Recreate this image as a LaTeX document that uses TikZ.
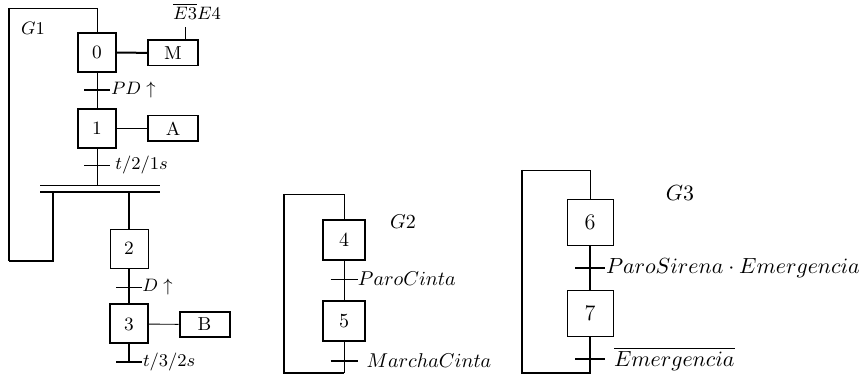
\documentclass[tikz,border=0pt]{standalone}
\begin{document}
\begin{tikzpicture}[x=0.5pt,y=-0.5pt,
  thinl/.style={line width=0.45pt},
  medl/.style={line width=0.75pt},
  thickl/.style={line width=1pt},
  fa/.style={font=\fontsize{9.4pt}{11pt}\selectfont},
  fb/.style={font=\fontsize{10pt}{12pt}\selectfont},
  fc/.style={font=\fontsize{11.1pt}{13pt}\selectfont},
  boxa/.style={draw,fa,inner sep=0pt,minimum width=19pt,minimum height=19.5pt},
  boxb/.style={draw,fb,inner sep=0pt,minimum width=21pt,minimum height=20pt},
  boxc/.style={draw,fc,inner sep=0pt,minimum width=23pt,minimum height=23pt},
  actbox/.style={draw,fa,inner sep=0pt,minimum width=25pt,minimum height=12.75pt},
  lbl/.style={anchor=west,inner sep=1pt}]
\useasboundingbox (0,0) rectangle (868,378);

% ================= G1 =================
\node[fa] (g1) at (33,28) {$G1$};
\node[boxa,thickl] (s0) at (97,52.5) {0};
\node[boxa,thickl] (s1) at (97,128.5) {1};
\node[boxa,thinl] (s2) at (129,248.5) {2};
\node[boxa,thickl] (s3) at (129,324) {3};
\node[actbox,medl] (aM) at (173,53) {M};
\node[actbox,medl] (aA) at (173,128.5) {A};
\node[actbox,thickl] (aB) at (204.5,324.5) {B};
\node[fa,anchor=base] (e34) at (197,20) {$\overline{E3}E4$};
\coordinate (mq) at (185,27);

\draw[thickl] (s0) -- (aM);
\draw[thinl] (s1) -- (aA);
\draw[thinl] (aM.north -| mq) -- (mq);
\draw[thinl] (aB) -- (s3);

% loop G1
\coordinate (l1a) at (97,8);
\coordinate (l1b) at (9,8);
\coordinate (l1c) at (9,261);
\coordinate (l1d) at (53,261);
\coordinate (l1e) at (53,192);
\draw[thinl] (s0.north) -- (l1a) -- (l1b);
\draw[thickl] (l1b) -- (l1c);
\draw[thickl] (l1c) -- (l1d) -- (l1e);

% s0 -> s1
\draw[thinl] (s0) -- (s1);
\coordinate (t1) at (97,90);
\draw[thickl] ([xshift=-6.5pt]t1) -- ([xshift=6.5pt]t1) node[lbl,fa,inner sep=0pt] (lt1) {$PD\uparrow$};

% s1 -> sync
\coordinate (sy1) at (97,185);
\draw[thinl] (s1) -- (sy1);
\coordinate (t2) at (97,165);
\draw[thinl] ([xshift=-6.5pt]t2) -- ([xshift=6.5pt]t2) node[lbl,fa,xshift=1.5pt] (lt2) {$t/2/1s$};
\coordinate (syA) at (40,185);
\coordinate (syB) at (160,185);
\coordinate (syC) at (40,192);
\coordinate (syD) at (160,192);
\draw[thinl] (syA) -- (syB);
\draw[thickl] (syC) -- (syD);
\coordinate (sy2) at (129,192);
\draw[thickl] (sy2) -- (s2);

% s2 -> s3
\draw[thickl] (s2) -- (s3);
\coordinate (t3) at (129,287);
\draw[thinl] ([xshift=-6.5pt]t3) -- ([xshift=6.5pt]t3) node[lbl,fa,inner sep=0pt] (lt3) {$D\uparrow$};

% below s3
\coordinate (t4) at (129,362);
\draw[thickl] (s3) -- (t4);
\draw[thickl] ([xshift=-6.5pt]t4) -- ([xshift=6.5pt]t4) node[lbl,fa,inner sep=0pt] (lt4) {$t/3/2s$};

% ================= G2 =================
\node[fb] (g2) at (403,222) {$G2$};
\node[boxb,thickl] (s4) at (344,240) {4};
\node[boxb,thickl] (s5) at (344,321) {5};
\coordinate (l2a) at (344,194);
\coordinate (l2b) at (284,194);
\coordinate (l2c) at (284,373);
\coordinate (l2d) at (344,373);
\draw[thinl] (s4.north) -- (l2a) -- (l2b);
\draw[thickl] (l2b) -- (l2c) -- (l2d);
\draw[thinl] (l2d) -- (s5.south);
\draw[thinl] (s4) -- (s5);
\coordinate (t5) at (344,279);
\draw[thinl] ([xshift=-6.75pt]t5) -- ([xshift=6.75pt]t5) node[lbl,fb,inner sep=0pt] (lt5) {$ParoCinta$};
\coordinate (t6) at (344,361);
\draw[thickl] ([xshift=-6.75pt]t6) -- ([xshift=6.75pt]t6) node[lbl,fb,xshift=3pt] (lt6) {$MarchaCinta$};

% ================= G3 =================
\node[fc] (g3) at (680,193) {$G3$};
\node[boxc,thinl] (s6) at (590,222) {6};
\node[boxc,thinl] (s7) at (590,313.5) {7};
\coordinate (l3a) at (590,170);
\coordinate (l3b) at (522,170);
\coordinate (l3c) at (522,373);
\coordinate (l3d) at (590,373);
\draw[thinl] (s6.north) -- (l3a) -- (l3b);
\draw[thickl] (l3b) -- (l3c) -- (l3d) -- (s7.south);
\draw[thickl] (s6) -- (s7);
\coordinate (t7) at (590,268);
\draw[thickl] ([xshift=-7.5pt]t7) -- ([xshift=7.5pt]t7) node[lbl,fc,inner sep=0pt] (lt7) {$ParoSirena\cdot Emergencia$};
\coordinate (t8) at (590,359);
\draw[thickl] ([xshift=-7.5pt]t8) -- ([xshift=7.5pt]t8) node[lbl,fc,xshift=3pt] (lt8) {$\overline{Emergencia}$};
\end{tikzpicture}
\end{document}
